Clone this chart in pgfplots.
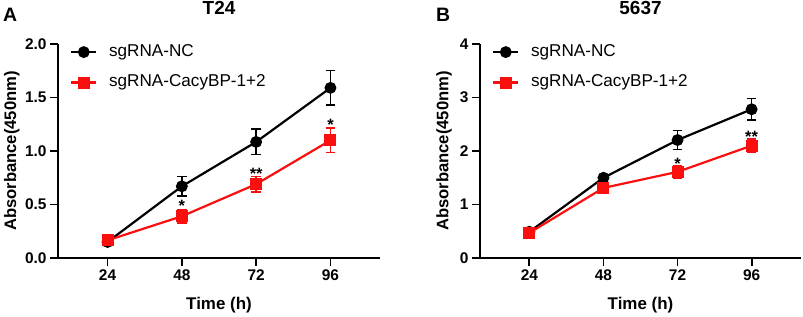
\documentclass[border=0pt]{standalone}
\usepackage{fontspec}
\setmainfont{Liberation Sans}
\usepackage{pgfplots}
\pgfplotsset{compat=1.18}
\definecolor{myred}{RGB}{250,15,15}
\pgfplotsset{
 myaxis/.style={
  scale only axis, width=322bp, height=214bp,
  xmin=8, xmax=112, ymin=0,
  axis x line*=bottom, axis y line*=left,
  xtick={24,48,72,96},
  tick align=outside, major tick length=8bp,
  every tick/.style={line width=1.9bp, black},
  axis line style={line width=1.9bp, black},
  ticklabel style={font=\bfseries\fontsize{15.5}{18}\selectfont},
  /pgf/number format/assume math mode=true,
  clip=false,
  legend cell align=left,
  legend style={draw=none, fill=none, font=\fontsize{17.2}{20}\selectfont,
    at={(axis description cs:0,1)}, anchor=north west, xshift=12bp, yshift=0bp,
    inner sep=0pt, row sep=14.7bp,
    nodes={inner sep=0pt, text height=12.2bp, text depth=3.6bp},
    /tikz/every odd column/.append style={column sep=11.7bp}},
  legend image code/.code={\draw[mark repeat=2,mark phase=2,#1] plot coordinates {(0bp,0bp)(12.5bp,0bp)(25bp,0bp)};},
 },
 ncplot/.style={black, line width=2.2bp, mark=*, mark size=4.8bp, mark options={solid},
   error bars/.cd, y dir=both, y explicit,
   error mark options={rotate=90, mark size=4.8bp, line width=1.5bp, black},
   error bar style={line width=1.5bp, black}},
 kdplot/.style={myred, line width=2.2bp, mark=square*, mark size=4.9bp, mark options={solid},
   error bars/.cd, y dir=both, y explicit,
   error mark options={rotate=90, mark size=4.8bp, line width=1.5bp, myred},
   error bar style={line width=1.5bp, myred}},
}
\tikzset{star/.style={font=\bfseries\fontsize{16.5}{18}\selectfont, inner sep=0pt, yshift=-3.6bp}}
\begin{document}
\begin{tikzpicture}
\useasboundingbox (0,0) rectangle (803bp,317bp);
% Panel A
\begin{axis}[myaxis, at={(58bp,59bp)}, anchor=south west, ymax=2,
  ytick={0,0.5,1,1.5,2},
  yticklabel style={/pgf/number format/.cd, fixed, fixed zerofill, precision=1}]
\addplot[ncplot] coordinates {(24,0.15) +- (0,0.012) (48,0.67) +- (0,0.092) (72,1.085) +- (0,0.12) (96,1.59) +- (0,0.16)};
\addlegendentry{sgRNA-NC}
\addplot[kdplot] coordinates {(24,0.165) +- (0,0.015) (48,0.39) +- (0,0.065) (72,0.69) +- (0,0.072) (96,1.10) +- (0,0.115)};
\addlegendentry{sgRNA-CacyBP-1+2}
\node[star] at (axis cs:48,0.517) {*};
\node[star] at (axis cs:72,0.816) {**};
\node[star] at (axis cs:96,1.274) {*};
\end{axis}
% Panel B
\begin{axis}[myaxis, at={(480bp,59bp)}, anchor=south west, width=321bp, ymax=4,
  ytick={0,1,2,3,4}]
\addplot[ncplot] coordinates {(24,0.49) +- (0,0.03) (48,1.50) +- (0,0.06) (72,2.205) +- (0,0.18) (96,2.78) +- (0,0.2)};
\addlegendentry{sgRNA-NC}
\addplot[kdplot] coordinates {(24,0.47) +- (0,0.03) (48,1.31) +- (0,0.06) (72,1.61) +- (0,0.12) (96,2.10) +- (0,0.12)};
\addlegendentry{sgRNA-CacyBP-1+2}
\node[star] at (axis cs:72,1.83) {*};
\node[star] at (axis cs:96,2.33) {**};
\end{axis}
% titles and labels
\node[anchor=north west, inner sep=0pt, font=\bfseries\fontsize{19.5}{22}\selectfont] at (3bp,309bp) {A};
\node[anchor=north west, inner sep=0pt, font=\bfseries\fontsize{19.5}{22}\selectfont] at (436bp,309bp) {B};
\node[anchor=north, inner sep=0pt, font=\bfseries\fontsize{19}{22}\selectfont] at (219bp,315.5bp) {T24};
\node[anchor=north, inner sep=0pt, font=\bfseries\fontsize{19}{22}\selectfont] at (640.5bp,315.5bp) {5637};
\node[rotate=90, inner sep=0pt, font=\bfseries\fontsize{16.7}{20}\selectfont] at (11.7bp,166bp) {Absorbance(450nm)};
\node[rotate=90, inner sep=0pt, font=\bfseries\fontsize{16.7}{20}\selectfont] at (444bp,166bp) {Absorbance(450nm)};
\node[inner sep=0pt, font=\bfseries\fontsize{17}{20}\selectfont] at (219bp,11.5bp) {Time (h)};
\node[inner sep=0pt, font=\bfseries\fontsize{17}{20}\selectfont] at (640.5bp,11.5bp) {Time (h)};
\end{tikzpicture}
\end{document}
